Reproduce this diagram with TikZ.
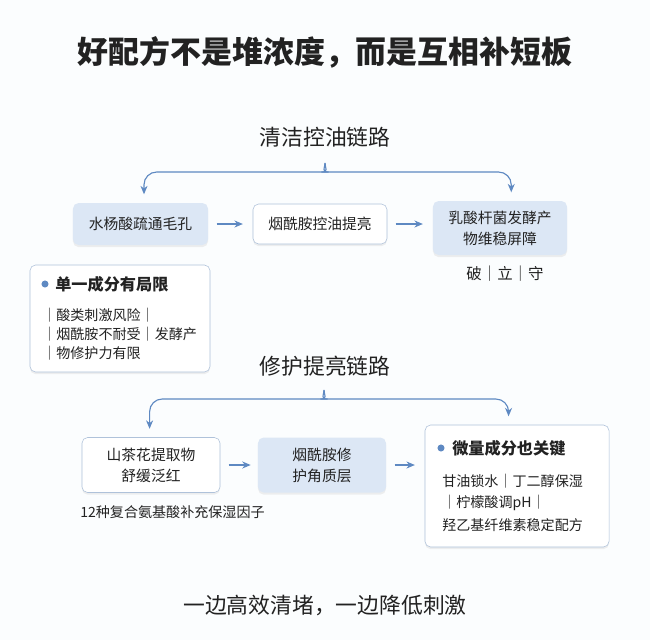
\documentclass[tikz,border=0pt]{standalone}
\usepackage{fontspec}
\setmainfont{Noto Sans CJK SC}
\usetikzlibrary{arrows.meta,shadows}

\begin{document}
\begin{tikzpicture}[x=0.025cm,y=-0.025cm]
\definecolor{linkblue}{HTML}{5E89C2}
\definecolor{boxblue}{HTML}{DCE7F5}
\definecolor{boxline}{HTML}{AFC2DA}
\definecolor{ink}{HTML}{222222}
\tikzset{flow/.style = {-{Stealth[length=6pt,width=5pt]}, draw=linkblue, thick}}
\tikzset{brace/.style = {flow, rounded corners=9pt, shorten >=6pt}}
\tikzset{fillbox/.style = {shape=rectangle, rounded corners=4pt, fill=boxblue, align=center, text=ink,
  font=\fontsize{10.5}{15}\selectfont, drop shadow={opacity=0.12, shadow xshift=0pt, shadow yshift=-1.5pt}}}
\tikzset{plainbox/.style = {fillbox, fill=white, draw=boxline}}
\tikzset{chain/.style = {text=ink, font=\fontsize{15.5}{18}\selectfont}}
\tikzset{line/.style = {anchor=west, text=ink, inner sep=0pt, font=\fontsize{10}{12}\selectfont}}
\tikzset{head/.style = {line, font=\bfseries\fontsize{11.5}{14}\selectfont}}
\tikzset{dot/.style = {shape=circle, fill=linkblue, inner sep=0pt, minimum size=5pt}}

\fill[white!60!boxblue!25] (0,0) rectangle (650,640);
\useasboundingbox (0,0) rectangle (650,640);

\node[text=ink, font=\bfseries\fontsize{22}{26}\selectfont](title) at (325,52) {好配方不是堆浓度，而是互相补短板};

% clean chain
\node[chain](t1) at (325,137) {清洁控油链路};
\coordinate (c1) at (325,163);
\node[fillbox, minimum width=3.375cm, minimum height=1.05cm](b1) at (140.5,224) {水杨酸疏通毛孔};
\node[plainbox, minimum width=3.35cm, minimum height=1cm](b2) at (320,224) {烟酰胺控油提亮};
\node[fillbox, minimum width=3.35cm, minimum height=1.35cm](b3) at (500,228) {乳酸杆菌发酵产\\物维稳屏障};
\node[text=ink, font=\fontsize{11}{13}\selectfont](b3tag) at (505,274) {破｜立｜守};
\draw[brace] (c1) to[out=-90,in=0] ++(-9,9) -| ([xshift=2.5]b1.north);
\draw[brace] (c1) to[out=-90,in=180] ++(9,9) -| ([xshift=8]b3.north);
\draw[flow, shorten <=6pt, shorten >=7pt] (b1) -- (b2);
\draw[flow, shorten <=6pt, shorten >=7pt] (b2) -- (b2 -| b3.west);

% limits note
\node[plainbox, minimum width=4.5cm, minimum height=2.675cm](n1) at (120,318.5) {};
\node[dot](d1) at (45,284) {};
\node[head](h1) at (55,284) {单一成分有局限};
\node[line](l1) at (42,315) {｜酸类刺激风险｜};
\node[line](l2) at (42,334) {｜烟酰胺不耐受｜发酵产};
\node[line](l3) at (42,353) {｜物修护力有限};

% repair chain
\node[chain](t2) at (325,366) {修护提亮链路};
\coordinate (c2) at (324,390);
\node[plainbox, minimum width=3.45cm, minimum height=1.375cm](b5) at (151,465) {山茶花提取物\\舒缓泛红};
\node[fillbox, minimum width=3.2cm, minimum height=1.375cm](b6) at (322,465) {烟酰胺修\\护角质层};
\node[plainbox, minimum width=4.6cm, minimum height=3.05cm](b7) at (517,486) {};
\node[line, font=\fontsize{10}{12}\selectfont](b5tag) at (80,512) {12种复合氨基酸补充保湿因子};
\draw[brace] (c2) to[out=-90,in=0] ++(-9,9) -| ([xshift=-1]b5.north);
\draw[brace] (c2) to[out=-90,in=180] ++(9,9) -| ([xshift=-6]b7.north);
\draw[flow, shorten <=6pt, shorten >=5pt] (b5) -- (b6);
\draw[flow, shorten <=6pt, shorten >=7pt] (b6) -- (b6 -| b7.west);
\node[dot](d2) at (441,448) {};
\node[head](h2) at (452,448) {微量成分也关键};
\node[line](l4) at (442,481) {甘油锁水｜丁二醇保湿};
\node[line](l5) at (442,503) {｜柠檬酸调pH｜};
\node[line](l6) at (442,525) {羟乙基纤维素稳定配方};

\node[text=ink, font=\fontsize{15.5}{18}\selectfont](foot) at (325,605) {一边高效清堵，一边降低刺激};
\end{tikzpicture}
\end{document}
